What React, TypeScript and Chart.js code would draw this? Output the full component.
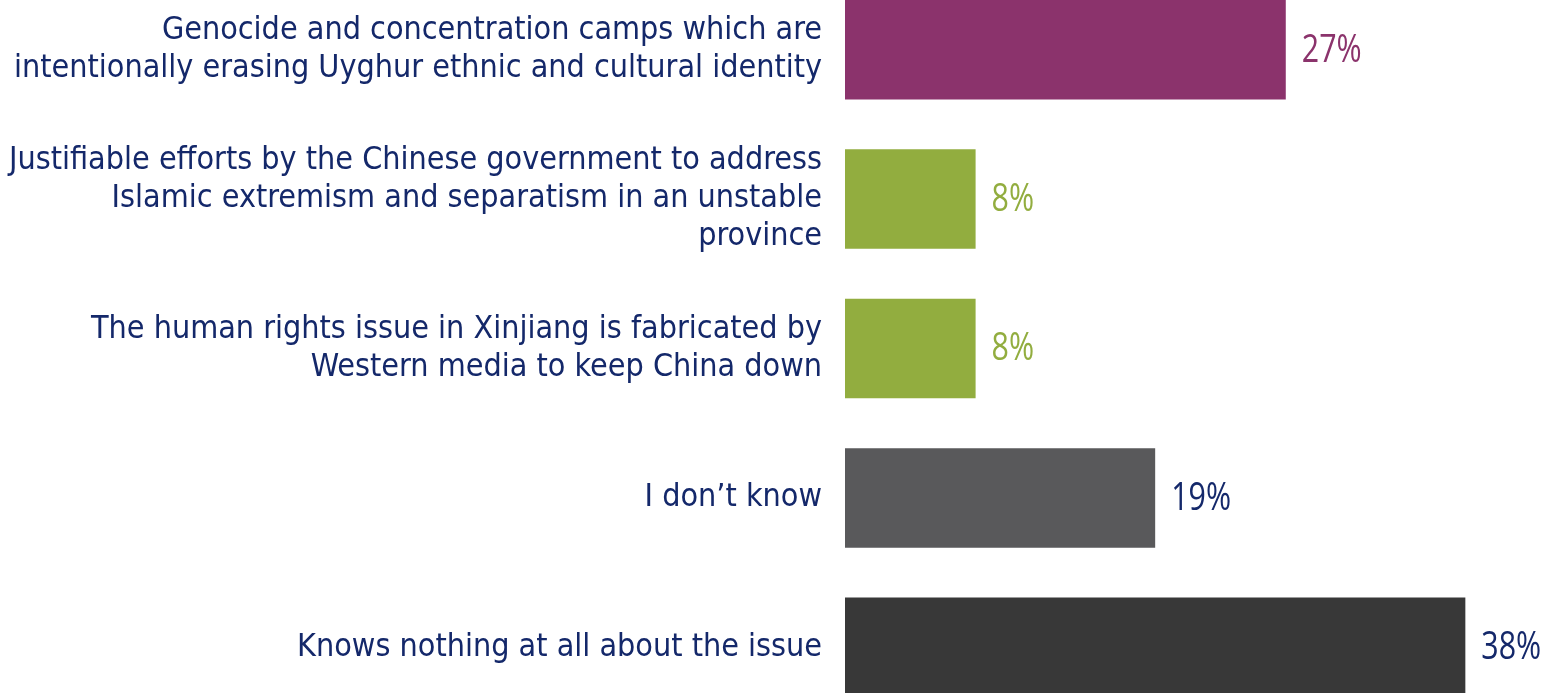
import React, { useEffect, useRef } from "react";
import { Chart, registerables } from "chart.js";

Chart.register(...registerables);

const categories: string[][] = [
  ["Genocide and concentration camps which are", "intentionally erasing Uyghur ethnic and cultural identity"],
  ["Justifiable efforts by the Chinese government to address", "Islamic extremism and separatism in an unstable", "province"],
  ["The human rights issue in Xinjiang is fabricated by", "Western media to keep China down"],
  ["I don\u2019t know"],
  ["Knows nothing at all about the issue"],
];
const values = [27, 8, 8, 19, 38];
const valueLabels = ["27%", "8%", "8%", "19%", "38%"];
const barColors = ["#8B336C", "#92AD3F", "#92AD3F", "#59595B", "#383838"];
const valueColors = ["#8B336C", "#92AD3F", "#92AD3F", "#14286A", "#14286A"];
const navy = "#14286A";

const valueLabelPlugin = {
  id: "valueLabels",
  afterDatasetsDraw(chart: any) {
    const ctx = chart.ctx;
    const meta = chart.getDatasetMeta(0);
    meta.data.forEach((bar: any, i: number) => {
      ctx.save();
      ctx.font = "38px 'Open Sans'";
      ctx.fillStyle = valueColors[i];
      ctx.textAlign = "left";
      ctx.textBaseline = "middle";
      ctx.translate(bar.x + 16, bar.y + 1);
      ctx.scale(0.8, 1);
      ctx.fillText(valueLabels[i], 0, 0);
      ctx.restore();
    });
  },
};

export default function App() {
  const ref = useRef<HTMLCanvasElement>(null);
  useEffect(() => {
    if (!ref.current) return;
    const chart = new Chart(ref.current, {
      type: "bar",
      data: {
        labels: categories,
        datasets: [
          {
            data: values,
            backgroundColor: barColors,
            borderWidth: 0,
            barPercentage: 0.666,
            categoryPercentage: 1,
          },
        ],
      },
      options: {
        indexAxis: "y",
        animation: false,
        responsive: false,
        devicePixelRatio: 1,
        layout: { padding: { left: 0, right: 59, top: 0, bottom: 0 } },
        plugins: {
          legend: { display: false },
          tooltip: { enabled: false },
        },
        scales: {
          x: { display: false, min: 0, max: 40 },
          y: {
            grid: { display: false, drawTicks: false },
            border: { display: false },
            ticks: {
              color: navy,
              padding: 23,
              font: { family: "'DejaVu Sans Condensed'", size: 32, lineHeight: "38px" },
            },
            afterFit: (scale: any) => {
              scale.width = 845;
              scale.paddingTop = 0;
              scale.paddingBottom = 0;
            },
          },
        },
      },
      plugins: [valueLabelPlugin],
    });
    return () => chart.destroy();
  }, []);
  return (
    <div style={{ position: "fixed", left: 0, top: 0, width: 1557, height: 693, overflow: "hidden", background: "#fff" }}>
      <canvas ref={ref} width={1557} height={747} style={{ position: "absolute", left: 0, top: -25 }} />
    </div>
  );
}
